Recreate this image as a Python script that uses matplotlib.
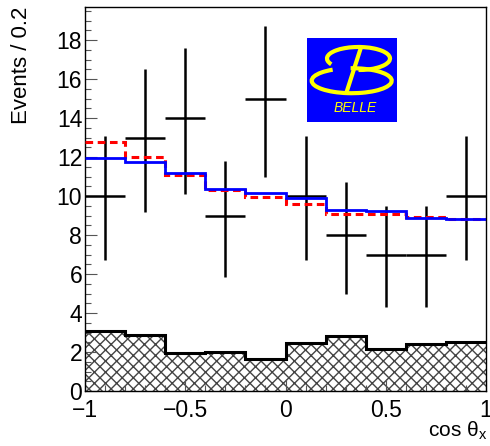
import numpy as np
import matplotlib
matplotlib.use('Agg')
import matplotlib.pyplot as plt
from matplotlib.patches import Arc, Rectangle
from matplotlib.ticker import MultipleLocator, FuncFormatter

plt.rcParams['font.family'] = ['Liberation Sans', 'DejaVu Sans']
plt.rcParams['mathtext.fontset'] = 'custom'
plt.rcParams['mathtext.rm'] = 'Liberation Sans'
plt.rcParams['mathtext.it'] = 'Liberation Sans:italic'
plt.rcParams['hatch.linewidth'] = 1.0

# binning in cos(theta_x)
bin_edges = np.linspace(-1.0, 1.0, 11)
bin_centers = 0.5 * (bin_edges[:-1] + bin_edges[1:])

# data points with asymmetric (Poisson-like) errors
data_counts = [10, 13, 14, 9, 15, 10, 8, 7, 7, 10]
data_err_up = [3.1, 3.5, 3.6, 2.8, 3.7, 3.1, 2.7, 2.5, 2.5, 3.1]
data_err_dn = [3.3, 3.8, 3.9, 3.15, 4.0, 3.3, 3.0, 2.7, 2.7, 3.3]

# fit projections
fit_blue = [11.95, 11.75, 11.2, 10.35, 10.15, 9.9, 9.3, 9.25, 8.9, 8.8]
fit_red = [12.75, 12.0, 11.1, 10.3, 9.95, 9.6, 9.1, 9.1, 8.95, 8.8]

# background component (hatched)
bkg = [3.1, 2.85, 1.95, 2.0, 1.65, 2.45, 2.8, 2.15, 2.4, 2.5]

fig = plt.figure(figsize=(4.9, 4.46), dpi=100)
ax = fig.add_axes([85 / 490, 1 - 391 / 446, 401 / 490, 384 / 446])

ax.stairs(bkg, bin_edges, fill=True, facecolor='white', edgecolor='#444444',
          hatch='xxx', linewidth=0, zorder=1)
ax.stairs(bkg, bin_edges, baseline=None, color='black', linewidth=2.2, zorder=2)

ax.errorbar(bin_centers, data_counts, xerr=0.1,
            yerr=[data_err_dn, data_err_up], fmt='none',
            ecolor='black', elinewidth=1.8, capsize=0, zorder=3)

ax.stairs(fit_red, bin_edges, baseline=None, color='red', linewidth=2.2,
          linestyle=(0, (2.5, 1.5)), zorder=4)
ax.stairs(fit_blue, bin_edges, baseline=None, color='blue', linewidth=2.0,
          zorder=5)

ax.set_xlim(-1, 1)
ax.set_ylim(0, 19.7)
ax.xaxis.set_major_locator(MultipleLocator(0.5))
ax.xaxis.set_minor_locator(MultipleLocator(0.1))
ax.yaxis.set_major_locator(MultipleLocator(2))
ax.yaxis.set_minor_locator(MultipleLocator(0.5))
ax.xaxis.set_major_formatter(
    FuncFormatter(lambda v, p: f'{v:g}'.replace('-', '\u2212')))
ax.tick_params(which='both', direction='in', top=False, right=False,
               color='#555555', width=0.8, labelsize=16.5)
ax.tick_params(which='major', length=8.5)
ax.tick_params(which='minor', length=4.3)
ax.tick_params(axis='y', pad=2)
ax.tick_params(axis='x', pad=6)
for s in ax.spines.values():
    s.set_linewidth(1.0)

fig.text(22 / 490, 1 - 7 / 446, 'Events / 0.2', rotation=90,
         ha='center', va='top', fontsize=16)
fig.text(487 / 490, 1 - 437 / 446, r'cos $\mathrm{\theta_{x}}$',
         ha='right', va='baseline', fontsize=15)

# Belle logo
lg = fig.add_axes([307 / 490, 1 - 122 / 446, 90 / 490, 84 / 446])
lg.set_xlim(0, 90)
lg.set_ylim(0, 84)
lg.axis('off')
lg.add_patch(Rectangle((0, 0), 90, 84, color='#0000ff'))
yel = '#ffff00'
lg.add_patch(Arc((51.5, 63.5), 63, 23, theta1=-90, theta2=192,
                 color=yel, linewidth=3))
lg.add_patch(Arc((44.7, 41.3), 80, 25, theta1=150, theta2=95,
                 color=yel, linewidth=3))
lg.plot([54, 39.7], [74.7, 30.3], color=yel, linewidth=3,
        solid_capstyle='butt')
lg.text(48, 14, 'BELLE', color=yel, fontsize=10, style='italic',
        ha='center', va='center')

fig.savefig('out.png', dpi=100)
